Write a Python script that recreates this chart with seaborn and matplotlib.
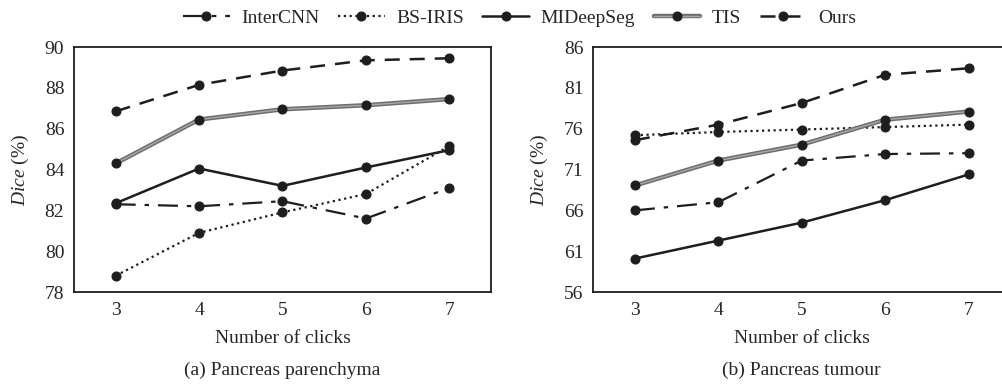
import numpy as np
import seaborn as sns
import matplotlib.pyplot as plt
from matplotlib.legend_handler import HandlerTuple

clicks = [3, 4, 5, 6, 7]
methods = ["InterCNN", "BS-IRIS", "MIDeepSeg", "TIS", "Ours"]

# (a) pancreas parenchyma
par_intercnn = [82.3, 82.2, 82.45, 81.6, 83.1]
par_bsiris = [78.8, 80.9, 81.9, 82.8, 85.15]
par_mideepseg = [82.35, 84.05, 83.2, 84.1, 84.95]
par_tis = [84.3, 86.45, 86.95, 87.15, 87.45]
par_ours = [86.85, 88.15, 88.85, 89.35, 89.45]

# (b) pancreas tumour
tum_intercnn = [66.0, 67.0, 72.1, 72.9, 73.0]
tum_bsiris = [75.2, 75.6, 75.9, 76.2, 76.5]
tum_mideepseg = [60.1, 62.3, 64.5, 67.25, 70.4]
tum_tis = [69.05, 72.1, 74.05, 77.1, 78.1]
tum_ours = [74.6, 76.5, 79.15, 82.6, 83.4]

sns.set_style("white")
plt.rcParams["font.family"] = ["Liberation Serif", "DejaVu Serif"]
plt.rcParams["mathtext.fontset"] = "custom"
plt.rcParams["mathtext.rm"] = "Liberation Serif"
plt.rcParams["mathtext.it"] = "Liberation Serif:italic"

ink = "#1e1e1e"
styles = {
    "InterCNN": dict(color=ink, linestyle=(0, (9, 4, 2, 4)), lw=1.6),
    "BS-IRIS": dict(color=ink, linestyle=(0, (1, 1.6)), lw=1.6),
    "MIDeepSeg": dict(color=ink, linestyle="-", lw=1.8),
    "TIS": dict(color="#a8a8a8", linestyle="-", lw=1.0),
    "Ours": dict(color=ink, linestyle=(0, (6, 4)), lw=1.8),
}

fig = plt.figure(figsize=(10.03, 3.92), dpi=100)
ax1 = fig.add_axes([0.0738, 0.255, 0.4157, 0.625])
ax2 = fig.add_axes([0.5915, 0.255, 0.4157, 0.625])

panels = [
    (ax1, [par_intercnn, par_bsiris, par_mideepseg, par_tis, par_ours], (78, 90), np.arange(78, 91, 2), "(a) Pancreas parenchyma"),
    (ax2, [tum_intercnn, tum_bsiris, tum_mideepseg, tum_tis, tum_ours], (56, 86), np.arange(56, 87, 5), "(b) Pancreas tumour"),
]

legend_handles = {}
for ax, series, ylim, yticks, caption in panels:
    for name, vals in zip(methods, series):
        if name == "TIS":
            # double line: dark gray outer stroke under a light core
            sns.lineplot(x=clicks, y=vals, ax=ax, color="#6e6e6e", lw=3.2, legend=False)
            outer = ax.lines[-1]
        sns.lineplot(x=clicks, y=vals, ax=ax, marker="o", markersize=6.5,
                     markerfacecolor=ink, markeredgecolor=ink, legend=False,
                     **styles[name])
        line = ax.lines[-1]
        legend_handles[name] = (outer, line) if name == "TIS" else line
    ax.set_xlim(2.5, 7.5)
    ax.set_ylim(*ylim)
    ax.set_xticks(clicks)
    ax.set_yticks(yticks)
    ax.tick_params(direction="in", length=5, width=1, labelsize=14, pad=7, color=ink)
    for sp in ax.spines.values():
        sp.set_color(ink)
        sp.set_linewidth(1.3)
    ax.set_xlabel("Number of clicks", fontsize=14, labelpad=8)
    ax.set_ylabel(r"$\it{Dice}$ (%)", fontsize=14, labelpad=10)
    pos = ax.get_position()
    fig.text(pos.x0 + 0.4157 / 2, 0.055, caption, ha="center", va="center", fontsize=14)

fig.legend([legend_handles[m] for m in methods], methods, loc="upper center",
           bbox_to_anchor=(0.518, 1.02), ncol=5, frameon=False, fontsize=14,
           handlelength=2.4, columnspacing=0.95, handletextpad=0.6,
           handler_map={tuple: HandlerTuple(ndivide=1)})

fig.savefig("out.png", dpi=100)
